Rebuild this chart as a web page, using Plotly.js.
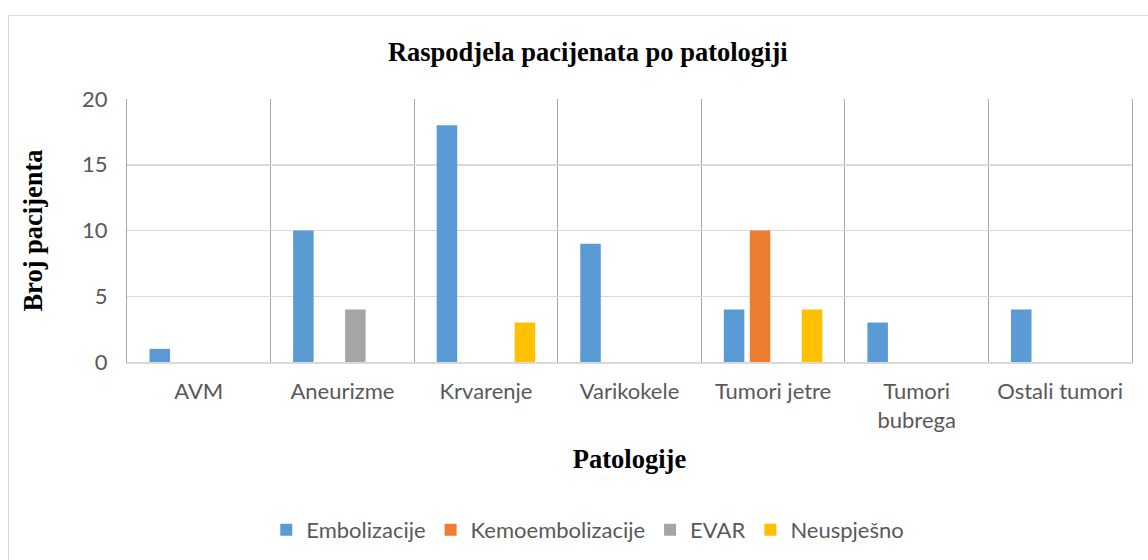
<!DOCTYPE html>
<html>
<head>
<meta charset="utf-8">
<script src="https://cdn.plot.ly/plotly-3.0.1.min.js"></script>
<style>
html,body{margin:0;padding:0;background:#fff;overflow:hidden;}
#frame{position:absolute;left:8px;top:15px;width:1200px;height:600px;border:1px solid #d9d9d9;box-sizing:border-box;}
#chart{position:absolute;left:0;top:0;width:1148px;height:560px;}
</style>
</head>
<body>
<div id="frame"></div>
<div id="chart"></div>
<script>
const categories = ["AVM", "Aneurizme", "Krvarenje", "Varikokele", "Tumori jetre", "Tumori<br>bubrega", "Ostali tumori"];
const seriesNames = ["Embolizacije", "Kemoembolizacije", "EVAR", "Neuspješno"];
const embolizacije = [1, 10, 18, 9, 4, 3, 4];
const kemoembolizacije = [0, 0, 0, 0, 10, 0, 0];
const evar = [0, 4, 0, 0, 0, 0, 0];
const neuspjesno = [0, 0, 3, 0, 4, 0, 0];
const colors = ["#5b9bd5", "#ed7d31", "#a5a5a5", "#ffc000"];

const allValues = [embolizacije, kemoembolizacije, evar, neuspjesno];
const data = allValues.map((vals, i) => ({
  type: "bar",
  name: seriesNames[i],
  x: categories,
  y: vals,
  marker: {color: colors[i]},
  hoverinfo: "x+y+name"
}));

const serif = "Liberation Serif, Times New Roman, serif";
const sans = "Lato, Calibri, sans-serif";

const layout = {
  width: 1148,
  height: 560,
  margin: {l: 127, r: 16, t: 99, b: 198},
  paper_bgcolor: "rgba(0,0,0,0)",
  plot_bgcolor: "rgba(0,0,0,0)",
  barmode: "group",
  bargap: 0.276,
  bargroupgap: 0.21,
  title: {
    text: "<b>Raspodjela pacijenata po patologiji</b>",
    font: {family: serif, size: 26.5, color: "#000"},
    x: 0.512, xref: "container", xanchor: "center",
    y: 1 - 52/560, yref: "container", yanchor: "middle"
  },
  xaxis: {
    type: "category",
    tickson: "boundaries",
    ticks: "",
    showgrid: true,
    gridcolor: "#a6a6a6",
    gridwidth: 1,
    showline: true,
    linecolor: "#d9d9d9",
    linewidth: 2,
    tickfont: {family: sans, size: 22, color: "#595959"},
    ticklabelstandoff: 9,
    title: {
      text: "<b>Patologije</b>",
      font: {family: serif, size: 26.5, color: "#000"},
      standoff: 17
    },
    fixedrange: true
  },
  yaxis: {
    range: [0, 20],
    dtick: 5,
    showgrid: true,
    gridcolor: "#d9d9d9",
    gridwidth: 1.5,
    zeroline: false,
    showline: true,
    mirror: true,
    linecolor: "#a6a6a6",
    linewidth: 1,
    ticks: "",
    tickfont: {family: sans, size: 22, color: "#595959"},
    ticklabelstandoff: 14,
    title: {
      text: "<b>Broj pacijenta</b>",
      font: {family: serif, size: 26.5, color: "#000"},
      standoff: 31
    },
    fixedrange: true
  },
  showlegend: true,
  legend: {
    orientation: "h",
    x: 0.512, xref: "container", xanchor: "center",
    y: 1 - 530/560, yref: "container", yanchor: "middle",
    font: {family: sans, size: 22, color: "#595959"},
    itemwidth: 30,
    traceorder: "normal"
  }
};

Plotly.newPlot("chart", data, layout, {displayModeBar: false, staticPlot: true});
</script>
</body>
</html>
